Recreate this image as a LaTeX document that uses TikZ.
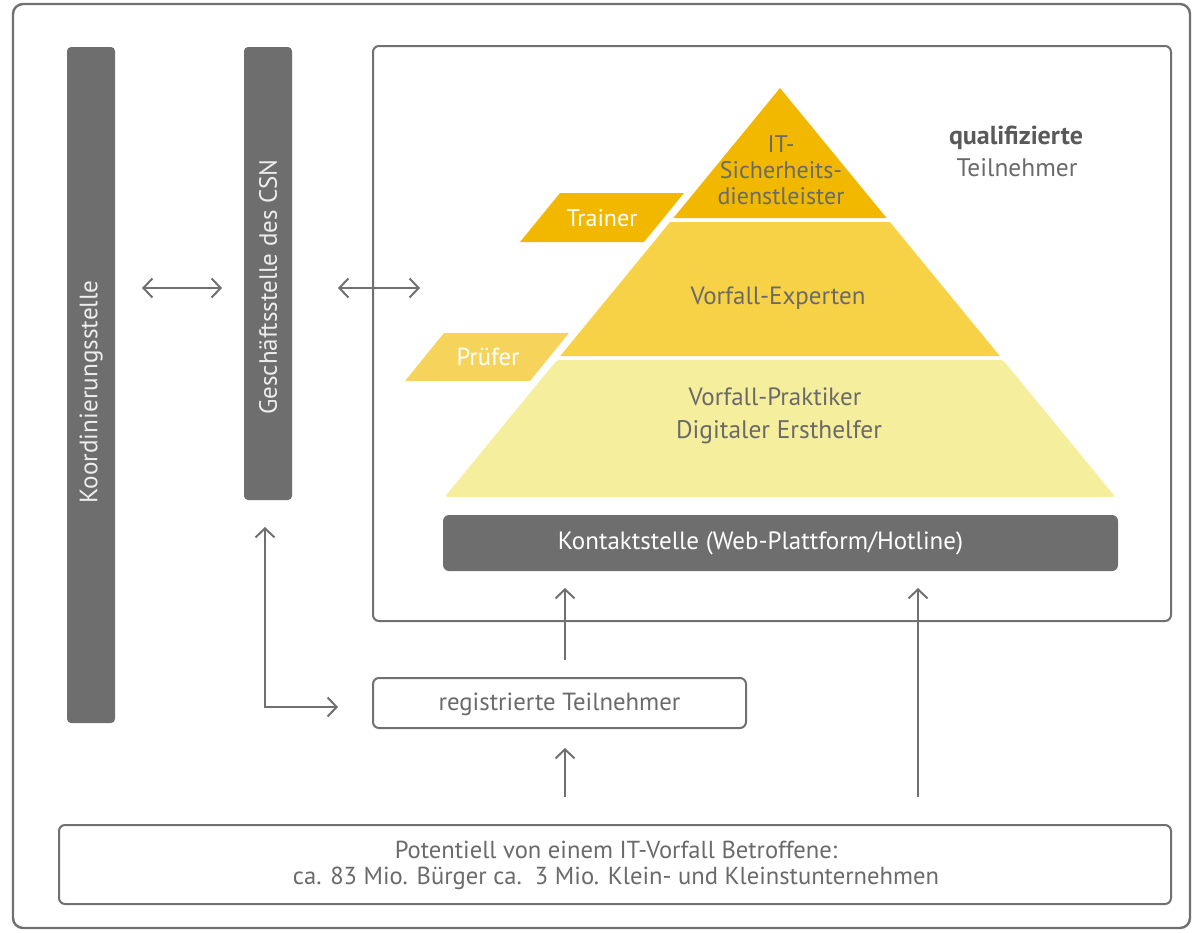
\documentclass[tikz,border=0pt]{standalone}
\usepackage{fontspec}
\setmainfont{PT Sans}
\usetikzlibrary{arrows.meta}
\definecolor{bargray}{HTML}{6E6E6E}
\definecolor{linegray}{HTML}{707070}
\definecolor{txtgray}{HTML}{6A6A6A}
\definecolor{ytop}{HTML}{F2B800}
\definecolor{ymid}{HTML}{F7D246}
\definecolor{ylow}{HTML}{F5EE9C}
\definecolor{ypruef}{HTML}{F6D45C}
\begin{document}
\begin{tikzpicture}[x=0.5pt,y=-0.5pt,
  darkbar/.style={fill=bargray, draw=none, rounded corners=2pt, inner sep=0pt},
  framebox/.style={draw=linegray, line width=1pt, rounded corners=3pt, fill=white, inner sep=0pt},
  arr/.style={draw=linegray, line width=1pt, -{Straight Barb[length=4.5pt,width=9.5pt]}},
  dblarr/.style={draw=linegray, line width=1pt, {Straight Barb[length=4.5pt,width=9.5pt]}-{Straight Barb[length=4.5pt,width=9.5pt]}},
  wtxt/.style={text=white, font=\fontsize{12}{13}\selectfont, inner sep=0pt},
  gtxt/.style={text=txtgray, font=\fontsize{12.4}{13}\selectfont, inner sep=0pt, align=center},
  ptxt/.style={text=txtgray, font=\fontsize{12.5}{13.5}\selectfont, inner sep=0pt, align=center}]
\useasboundingbox (0,0) rectangle (1194,932);
% outer frame
\draw[draw=linegray, line width=1.2pt, rounded corners=5pt] (13,4) rectangle (1190,928);
% inner box
\node[framebox, minimum width=399pt, minimum height=287.5pt, fill=none] (inner) at (772,333.5) {};
% bars
\node[darkbar, minimum width=24pt, minimum height=338pt] (koord) at (91,385) {};
\node[wtxt, text=white!93!black, font=\fontsize{12.6}{13}\selectfont, rotate=90] (koordt) at (91,392) {Koordinierungsstelle};
\node[darkbar, minimum width=24pt, minimum height=226.5pt] (gesch) at (268,273.5) {};
\node[wtxt, text=white!93!black, font=\fontsize{12.5}{13}\selectfont, rotate=90] (gescht) at (268,287) {Geschäftsstelle des CSN};
% pyramid
\fill[ylow, rounded corners=1.5pt] (557,360) -- (1003,360) -- (1115.4,497) -- (444.6,497) -- cycle;
\fill[ymid] (560.2,356) -- (670.1,222) -- (889.9,222) -- (999.8,356) -- cycle;
\fill[ytop] (673.4,218) -- (780,88) -- (886.6,218) -- cycle;
\fill[ytop] (560,193) -- (684,193) -- (644,242) -- (520,242) -- cycle;
\fill[ypruef] (444,333) -- (569,333) -- (530,381) -- (405,381) -- cycle;
\node[ptxt, font=\fontsize{12}{13.5}\selectfont] (its) at (781,170) {IT-\\[-0.5pt]Sicherheits-\\[-0.5pt]dienstleister};
\node[ptxt] (exp) at (778,298) {Vorfall-Experten};
\node[ptxt] (prak) at (775,397) {Vorfall-Praktiker};
\node[ptxt, font=\fontsize{12.7}{13.5}\selectfont] (dig) at (779,432) {Digitaler Ersthelfer};
\node[wtxt] (trainer) at (602,218) {Trainer};
\node[wtxt, font=\fontsize{12.3}{13}\selectfont] (pruef) at (488,357) {Prüfer};
\node[gtxt, font=\fontsize{13}{13}\selectfont\bfseries, text=black!65] (quali) at (1016,138) {qualifizierte};
\node[gtxt, font=\fontsize{12.7}{13}\selectfont] (teiln) at (1017,168) {Teilnehmer};
% Kontaktstelle
\node[darkbar, rounded corners=3pt, minimum width=337.5pt, minimum height=28pt] (kontakt) at (780.5,543) {};
\node[wtxt, font=\fontsize{12.5}{13}\selectfont] (kontaktt) at (760.5,543) {Kontaktstelle (Web-Plattform/Hotline)};
% registrierte
\node[framebox, minimum width=186.5pt, minimum height=25pt] (reg) at (559.5,703) {};
\node[gtxt] (regt) at (559.5,704) {registrierte Teilnehmer};
% bottom
\node[framebox, minimum width=556pt, minimum height=39.5pt] (pot) at (615,864.5) {};
\node[gtxt, font=\fontsize{12.3}{13}\selectfont] (pott) at (616,865) {Potentiell von einem IT-Vorfall Betroffene:\\ca. 83 Mio. Bürger ca.\ \ 3 Mio. Klein- und Kleinstunternehmen};
% connectors
\coordinate (a1) at (142,288); \coordinate (a2) at (222,288);
\coordinate (b1) at (338,288); \coordinate (b2) at (420,288);
\draw[dblarr] (a1) -- (a2);
\draw[dblarr] (b1) -- (b2);
\coordinate (c1) at (265,527); \coordinate (c2) at (338,707);
\draw[dblarr] (c1) |- (c2);
\coordinate (d1) at (565,660); \coordinate (d2) at (565,588);
\draw[arr] (d1) -- (d2);
\coordinate (e1) at (565,797); \coordinate (e2) at (565,748);
\draw[arr] (e1) -- (e2);
\coordinate (f1) at (918,797); \coordinate (f2) at (918,588);
\draw[arr] (f1) -- (f2);
\end{tikzpicture}
\end{document}
